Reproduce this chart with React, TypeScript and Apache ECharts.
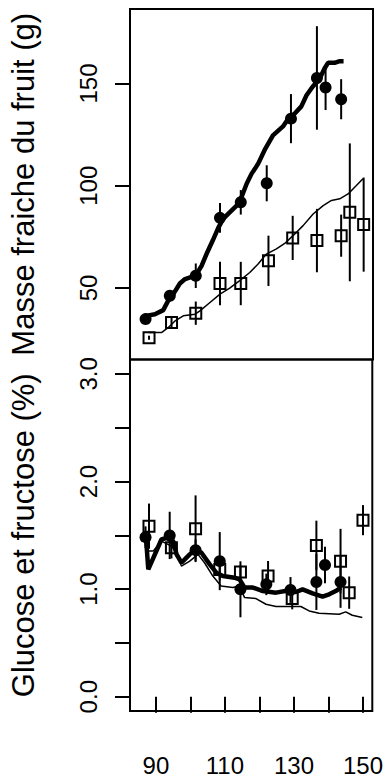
import React, { useEffect, useRef } from "react";
import * as echarts from "echarts";

// Observation days
const circleDays = [87, 94, 101.5, 108.5, 114.5, 122, 129, 136.5, 139, 143.5];
const squareDays = [88, 94.5, 101.5, 108.5, 114.5, 122.5, 129.5, 136.5, 143.5, 146, 150];

// Fresh mass (g)
const circleMass = [34.8, 46.2, 56.0, 84.3, 91.9, 101.2, 132.8, 152.7, 148.0, 142.3];
const circleMassErr = [1.5, 2.5, 6, 7.3, 6, 8.8, 12, 25.3, 11, 9.8];
const squareMass = [25.7, 33.1, 37.7, 52.2, 52.2, 63.3, 74.5, 73.2, 75.6, 87.0, 81.0];
const squareMassErr = [1, 3, 5.7, 10.6, 10.6, 12.3, 10.8, 15.5, 10.3, 33.7, 23];

// Glucose + fructose (%)
const circleSugar = [1.483, 1.499, 1.362, 1.26, 0.998, 1.044, 0.992, 1.066, 1.224, 1.066];
const circleSugarErr = [0.1, 0.22, 0.1, 0.27, 0.26, 0.1, 0.12, 0.26, 0.17, 0.24];
const squareSugar = [1.585, 1.385, 1.561, 1.183, 1.159, 1.121, 0.912, 1.406, 1.26, 0.967, 1.641];
const squareSugarErr = [0.21, 0.1, 0.31, 0.1, 0.06, 0.14, 0.1, 0.23, 0.3, 0.15, 0.14];

// Model curves
const massModelADays = [87.1, 89.7, 92.1, 93.5, 95, 96.9, 98.4, 100.3, 101.7, 103.2, 104.6, 106.4, 108, 109.4, 111.3, 113.3, 114.7, 116.2, 117.6, 119.5, 121.4, 123.8, 126.7, 128.2, 130.1, 132.0, 133.5, 135.2, 137.3, 138.7, 139.7, 141.6, 143.1, 144.2];
const massModelAVals = [36.4, 37.2, 39.2, 43.7, 47, 52.2, 54.4, 55.5, 56.8, 60.9, 66.6, 73.2, 79.4, 83.8, 87.0, 90.3, 94.4, 101.0, 105.8, 110.7, 117.5, 124.6, 129.0, 132.8, 135.3, 138.8, 144.2, 148.3, 152.4, 157.3, 160.1, 160.1, 160.9, 160.9];
const massModelBDays = [87.8, 91.6, 93.5, 95.5, 97.9, 101.3, 102.7, 105.6, 108.5, 111.3, 114.2, 117.1, 119.5, 121.9, 124.8, 127.2, 129.6, 132.5, 135.4, 138.3, 140.7, 143.1, 145.5, 147.9, 149.8];
const massModelBVals = [28.2, 28.2, 30.6, 33.9, 36.4, 37.2, 38.8, 42.9, 47.0, 50.0, 53.6, 57.6, 61.7, 66.6, 69.1, 71.8, 75.6, 80.5, 86.2, 90.3, 92.8, 93.6, 96.0, 100.1, 103.4];
const sugarModelADays = [87.1, 87.8, 91.6, 93.1, 95, 96, 97.4, 99.8, 101.5, 103.2, 105.6, 107.5, 109.4, 112.8, 114.2, 115.7, 118.1, 121, 124.8, 128.7, 130.6, 132.5, 135.4, 138.3, 140.2, 142.1, 143.6];
const sugarModelAVals = [1.492, 1.183, 1.461, 1.477, 1.446, 1.323, 1.245, 1.323, 1.369, 1.338, 1.23, 1.153, 1.121, 1.106, 1.091, 1.014, 1.014, 0.982, 0.967, 0.989, 0.973, 0.998, 0.961, 0.93, 0.952, 0.982, 1.014];
const sugarModelBDays = [87.8, 89.2, 91.6, 94.5, 96, 97.4, 99.8, 102.2, 104.1, 106.5, 108.9, 112.3, 114.2, 115.7, 119, 121.9, 124.8, 132, 134.4, 137.3, 143.1, 145, 146.9, 149.8];
const sugarModelBVals = [1.353, 1.353, 1.446, 1.4, 1.338, 1.214, 1.26, 1.323, 1.245, 1.121, 1.029, 1.014, 1.029, 0.921, 0.912, 0.859, 0.838, 0.838, 0.797, 0.776, 0.766, 0.788, 0.757, 0.736];

// Axis ticks
const xTicks = [90, 100, 110, 120, 130, 140, 150];
const xLabels = [90, 110, 130, 150];
const massTicks = [50, 100, 150];
const sugarTicks = [0, 0.5, 1, 1.5, 2, 2.5, 3];
const sugarLabels = [0, 1, 2, 3];

const FONT = "Liberation Sans, Arial, Helvetica, sans-serif";

const zip = (a: number[], b: number[]) => a.map((v, i) => [v, b[i]]);
const bars = (d: number[], v: number[], e: number[]) => d.map((x, i) => [x, v[i] - e[i], v[i] + e[i]]);

const errRender = (_p: any, api: any) => {
  const a = api.coord([api.value(0), api.value(1)]);
  const b = api.coord([api.value(0), api.value(2)]);
  return {
    type: "line",
    shape: { x1: a[0], y1: a[1], x2: b[0], y2: b[1] },
    style: { stroke: "#000", lineWidth: 2 },
  };
};

export default function App() {
  const ref = useRef<HTMLDivElement>(null);
  useEffect(() => {
    if (!ref.current) return;
    const chart = echarts.init(ref.current, undefined, { renderer: "svg" });
    const xMin = 82.5, xMax = 152.7;
    const grids = [
      { left: 130, top: 9, width: 243, height: 350.5 },
      { left: 130, top: 359.5, width: 243, height: 352.5 },
    ].map((g) => ({ ...g, show: true, borderColor: "#000", borderWidth: 2, backgroundColor: "transparent" }));

    const yCommon = (gi: number) => ({
      gridIndex: gi,
      type: "value",
      axisLine: { show: false },
      splitLine: { show: false },
      axisTick: { show: true, length: 15, lineStyle: { color: "#000", width: 2 } },
      axisLabel: { rotate: 90, margin: 30, fontSize: 24, color: "#000", fontFamily: FONT },
      nameLocation: "middle",
      nameRotate: 90,
      nameGap: 91,
      nameTextStyle: { fontSize: 31, color: "#000", fontFamily: FONT },
    });

    const circleStyle = { color: "#000", opacity: 1 };
    const squareStyle = { color: "transparent", borderColor: "#000", borderWidth: 2, opacity: 1 };

    const option: any = {
      animation: false,
      grid: grids,
      xAxis: [
        { gridIndex: 0, type: "value", min: xMin, max: xMax, show: false, splitLine: { show: false } },
        {
          gridIndex: 1,
          type: "value",
          min: xMin,
          max: xMax,
          axisLine: { show: false },
          splitLine: { show: false },
          axisTick: { show: true, length: 16, customValues: xTicks, lineStyle: { color: "#000", width: 2 } },
          axisLabel: { customValues: xLabels, margin: 42, fontSize: 24, color: "#000", fontFamily: FONT },
        },
      ],
      yAxis: [
        {
          ...yCommon(0),
          min: 15.06,
          max: 186.4,
          name: "Masse fraiche du fruit (g)",
          axisTick: { ...yCommon(0).axisTick, customValues: massTicks },
          axisLabel: { ...yCommon(0).axisLabel, customValues: massTicks },
        },
        {
          ...yCommon(1),
          min: -0.133,
          max: 3.134,
          name: "Glucose et fructose (%)",
          axisTick: { ...yCommon(1).axisTick, customValues: sugarTicks },
          axisLabel: {
            ...yCommon(1).axisLabel,
            customValues: sugarLabels,
            formatter: (v: number) => v.toFixed(1),
          },
        },
      ],
      series: [
        { type: "line", xAxisIndex: 0, yAxisIndex: 0, data: zip(massModelADays, massModelAVals), showSymbol: false, lineStyle: { color: "#000", width: 4.5 }, z: 2 },
        { type: "line", xAxisIndex: 0, yAxisIndex: 0, data: zip(massModelBDays, massModelBVals), showSymbol: false, lineStyle: { color: "#000", width: 1.5 }, z: 2 },
        { type: "line", xAxisIndex: 1, yAxisIndex: 1, data: zip(sugarModelADays, sugarModelAVals), showSymbol: false, lineStyle: { color: "#000", width: 4.5 }, z: 2 },
        { type: "line", xAxisIndex: 1, yAxisIndex: 1, data: zip(sugarModelBDays, sugarModelBVals), showSymbol: false, lineStyle: { color: "#000", width: 1.5 }, z: 2 },
        { type: "custom", xAxisIndex: 0, yAxisIndex: 0, data: bars(circleDays, circleMass, circleMassErr), renderItem: errRender, encode: { x: 0, y: [1, 2] }, z: 3 },
        { type: "custom", xAxisIndex: 0, yAxisIndex: 0, data: bars(squareDays, squareMass, squareMassErr), renderItem: errRender, encode: { x: 0, y: [1, 2] }, z: 3 },
        { type: "custom", xAxisIndex: 1, yAxisIndex: 1, data: bars(circleDays, circleSugar, circleSugarErr), renderItem: errRender, encode: { x: 0, y: [1, 2] }, z: 3 },
        { type: "custom", xAxisIndex: 1, yAxisIndex: 1, data: bars(squareDays, squareSugar, squareSugarErr), renderItem: errRender, encode: { x: 0, y: [1, 2] }, z: 3 },
        { type: "scatter", xAxisIndex: 0, yAxisIndex: 0, data: zip(circleDays, circleMass), symbol: "circle", symbolSize: 12, itemStyle: circleStyle, z: 4 },
        { type: "scatter", xAxisIndex: 0, yAxisIndex: 0, data: zip(squareDays, squareMass), symbol: "rect", symbolSize: 11, itemStyle: squareStyle, z: 4 },
        { type: "scatter", xAxisIndex: 1, yAxisIndex: 1, data: zip(circleDays, circleSugar), symbol: "circle", symbolSize: 12, itemStyle: circleStyle, z: 4 },
        { type: "scatter", xAxisIndex: 1, yAxisIndex: 1, data: zip(squareDays, squareSugar), symbol: "rect", symbolSize: 11, itemStyle: squareStyle, z: 4 },
      ],
    };
    chart.setOption(option);
    return () => chart.dispose();
  }, []);
  return (
    <div
      ref={ref}
      style={{ position: "absolute", left: 0, top: 0, width: 386, height: 777, background: "#fff" }}
    />
  );
}
